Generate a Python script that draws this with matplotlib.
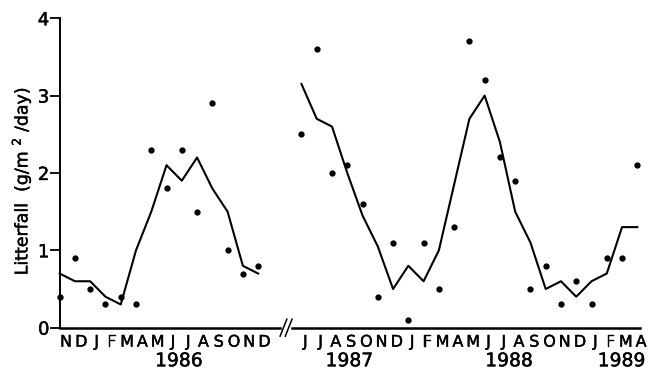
import numpy as np
import matplotlib
matplotlib.use("Agg")
import matplotlib.pyplot as plt
import matplotlib.patheffects as pe

# monthly litterfall, Nov 1985 - Dec 1986
months_1 = ["N", "D", "J", "F", "M", "A", "M", "J", "J", "A", "S", "O", "N", "D"]
dots_1 = [0.4, 0.9, 0.5, 0.3, 0.4, 0.3, 2.3, 1.8, 2.3, 1.5, 2.9, 1.0, 0.7, 0.8]
line_1 = [0.7, 0.6, 0.6, 0.4, 0.3, 1.0, 1.5, 2.1, 1.9, 2.2, 1.8, 1.5, 0.8, 0.7]

# monthly litterfall, Jun 1987 - Apr 1989
months_2 = ["J", "J", "A", "S", "O", "N", "D", "J", "F", "M", "A", "M",
            "J", "J", "A", "S", "O", "N", "D", "J", "F", "M", "A"]
dots_2 = [2.5, 3.6, 2.0, 2.1, 1.6, 0.4, 1.1, 0.1, 1.1, 0.5, 1.3, 3.7,
          3.2, 2.2, 1.9, 0.5, 0.8, 0.3, 0.6, 0.3, 0.9, 0.9, 2.1]
line_2 = [3.15, 2.7, 2.6, 2.0, 1.45, 1.05, 0.5, 0.8, 0.6, 1.0, 1.85, 2.7,
          3.0, 2.4, 1.5, 1.1, 0.5, 0.6, 0.4, 0.6, 0.7, 1.3, 1.3]

years = ["1986", "1987", "1988", "1989"]
year_pos = [7.8, 18.97, 29.43, 36.8]

GAP_START = 15.84  # x of first month after the axis break

x1 = np.arange(len(dots_1))
x2 = GAP_START + np.arange(len(dots_2))

plt.rcParams["font.family"] = "DejaVu Sans"
heavy = [pe.withStroke(linewidth=0.3, foreground="black")]

fig = plt.figure(figsize=(6.53, 3.69), dpi=100)
ax = fig.add_axes([0.0914, 0.112, 0.8904, 0.8385])

for xs, ys, ds in [(x1, line_1, dots_1), (x2, line_2, dots_2)]:
    ax.plot(xs, ys, color="black", lw=1.5, clip_on=False)
    ax.plot(xs, ds, "o", color="black", ms=3.5, clip_on=False)

ax.set_xlim(0, 38.0)
ax.set_ylim(0, 4)

# broken bottom axis
ax.spines["top"].set_visible(False)
ax.spines["right"].set_visible(False)
ax.spines["bottom"].set_visible(False)
ax.spines["left"].set_linewidth(1.4)
ax.plot([0, 14.45], [0, 0], color="black", lw=1.8, clip_on=False)
ax.plot([15.2, 38.0], [0, 0], color="black", lw=1.8, clip_on=False)
for cx in [14.66, 15.0]:
    ax.plot([cx - 0.22, cx + 0.22], [-0.11, 0.11], color="black", lw=1.1, clip_on=False)

ax.set_yticks([0, 1, 2, 3, 4])
ax.tick_params(axis="y", direction="out", length=7, width=1.3, pad=0.5, labelsize=13)

month_pos = list(x1 + 0.42) + list(x2 + 0.25)
ax.set_xticks(month_pos)
ax.set_xticklabels(months_1 + months_2)
ax.set_xticks(year_pos, minor=True)
ax.set_xticklabels(years, minor=True)
ax.tick_params(axis="x", which="major", length=0, pad=5, labelsize=11.5)
ax.tick_params(axis="x", which="minor", length=0, pad=17, labelsize=13.5)

ax.set_ylabel("Litterfall  (g/m $^2$ /day)", fontsize=12.5)
ax.yaxis.set_label_coords(-0.045, 0.474)

for t in ax.get_xticklabels(which="both") + ax.get_yticklabels() + [ax.yaxis.label]:
    t.set_path_effects(heavy)

fig.savefig("out.png", dpi=100)
